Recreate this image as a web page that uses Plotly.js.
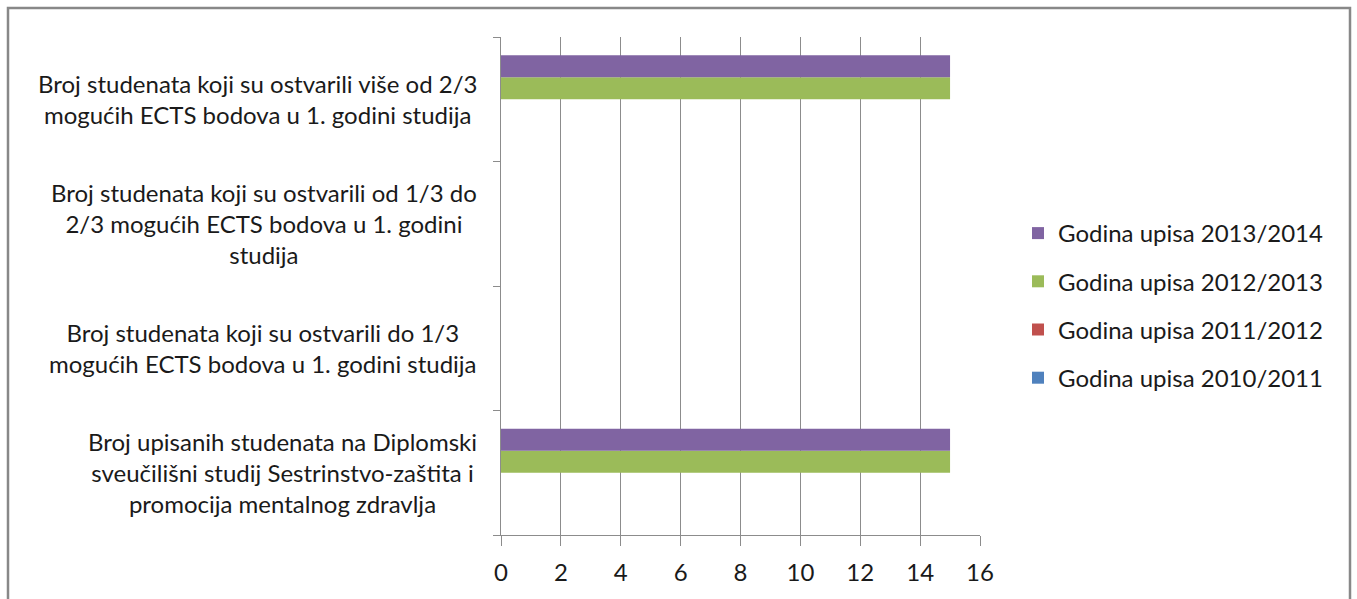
<!DOCTYPE html>
<html>
<head>
<meta charset="utf-8">
<script src="https://cdn.plot.ly/plotly-3.0.1.min.js"></script>
<style>
html,body{margin:0;padding:0;background:#fff;}
#chart{width:1357px;height:599px;}
</style>
</head>
<body>
<div id="chart"></div>
<script>
const categories = [
  "Broj upisanih studenata na Diplomski<br>sveučilišni studij Sestrinstvo-zaštita i<br>promocija mentalnog zdravlja",
  "Broj studenata koji su ostvarili do 1/3<br>mogućih ECTS bodova u 1. godini studija",
  "Broj studenata koji su ostvarili od 1/3 do<br>2/3 mogućih ECTS bodova u 1. godini<br>studija",
  "Broj studenata koji su ostvarili više od 2/3<br>mogućih ECTS bodova u 1. godini studija"
];
const seriesNames = ["Godina upisa 2010/2011","Godina upisa 2011/2012","Godina upisa 2012/2013","Godina upisa 2013/2014"];
const values2010 = [0, 0, 0, 0];
const values2011 = [0, 0, 0, 0];
const values2012 = [15, 0, 0, 15];
const values2013 = [15, 0, 0, 15];
const seriesValues = [values2010, values2011, values2012, values2013];
const colors = ["#4F81BD","#C0504D","#9BBB59","#8064A2"];
const xTicks = [0,2,4,6,8,10,12,14,16];

const FONT = "Lato, 'Open Sans', sans-serif";
const FS = 24;
const traces = seriesNames.map((n,i)=>({
  type:'bar', orientation:'h', name:n,
  y: categories, x: seriesValues[i],
  marker:{color:colors[i]},
  legendgroup:'g'+i,
  legendrank: 10 - i,
  hoverinfo:'x+name'
}));

const L=501, R=980, T=37, B=535;
const pw=R-L, ph=B-T;

const annotations = categories.map(c=>({
  xref:'paper', yref:'y', x:(479-L)/pw, y:c, xanchor:'right', yanchor:'middle',
  text:c, showarrow:false, align:'center',
  font:{family:FONT, size:FS, color:'#1a1a1a'}
}));

const layout = {
  width:1357, height:599,
  margin:{l:L, r:1357-R, t:T, b:599-B, pad:0},
  paper_bgcolor:'#fff', plot_bgcolor:'#fff',
  barmode:'group', bargap:0.293, bargroupgap:0,
  font:{family:FONT, size:FS, color:'#1a1a1a'},
  showlegend:true,
  legend:{x:(1018-L)/pw, y:(B-211)/ph, xanchor:'left', yanchor:'top',
    traceorder:'grouped', tracegroupgap:14,
    font:{family:FONT, size:FS, color:'#1a1a1a'}, itemwidth:30},
  xaxis:{range:[0,16], tickvals:xTicks, ticktext:xTicks.map(String),
    showgrid:true, gridcolor:'#8c8c8c', gridwidth:1,
    showline:true, linecolor:'#8c8c8c', linewidth:1,
    ticks:'outside', ticklen:10, tickcolor:'#8c8c8c', ticklabelstandoff:6,
    zeroline:false, tickfont:{family:FONT,size:FS,color:'#1a1a1a'}, fixedrange:true},
  yaxis:{type:'category', categoryorder:'array', categoryarray:categories,
    showticklabels:false, tickson:'boundaries',
    ticks:'outside', ticklen:7, tickcolor:'#8c8c8c',
    showline:true, linecolor:'#8c8c8c', linewidth:1,
    showgrid:false, zeroline:false, fixedrange:true},
  annotations:annotations,
  shapes:[{type:'rect', xref:'paper', yref:'paper',
    x0:(8-L)/pw, x1:(1350-L)/pw, y0:(B-610)/ph, y1:(B-8)/ph,
    line:{color:'#888', width:2.5}, fillcolor:'rgba(0,0,0,0)', layer:'below'}]
};
Plotly.newPlot('chart', traces, layout, {displayModeBar:false, staticPlot:true});
</script>
</body>
</html>
